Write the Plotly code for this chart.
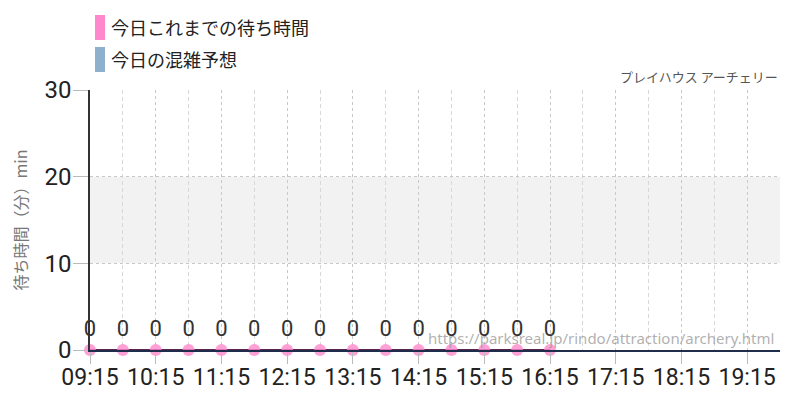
import plotly.graph_objects as go

# data
times = ["09:15", "09:45", "10:15", "10:45", "11:15", "11:45", "12:15", "12:45",
         "13:15", "13:45", "14:15", "14:45", "15:15", "15:45", "16:15"]
waits = [0, 0, 0, 0, 0, 0, 0, 0, 0, 0, 0, 0, 0, 0, 0]
day = "2024-01-01 "
x_start = "09:15"
x_end = "19:45"
y_ticks = [0, 10, 20, 30]
band = [10, 20]

title_text = "プレイハウス アーチェリー"
legend_names = ["今日これまでの待ち時間", "今日の混雑予想"]
legend_colors = ["#ff88cc", "#8eb0cc"]
url_text = "https://parksreal.jp/rindo/attraction/archery.html"

jp = "Noto Sans CJK JP"
num = "Roboto"

fig = go.Figure()

fig.add_trace(go.Scatter(
    x=[day + t for t in times],
    y=waits,
    mode="lines+markers+text",
    text=[str(v) for v in waits],
    textposition="top center",
    textfont=dict(family=num, size=22, color="#333"),
    line=dict(color="#5a2550", width=2),
    marker=dict(color="rgba(255,136,204,0.8)", size=12),
    cliponaxis=False,
    showlegend=False,
))

# grey band 10-20
fig.add_shape(type="rect", xref="paper", yref="y", x0=0, x1=1, y0=band[0], y1=band[1],
              fillcolor="#f2f2f2", line_width=0, layer="below")

# hand-made legend (tall swatches), positions in screen px -> paper
sw_y = [(15, 40), (47, 72)]
for (top, bot), c, name in zip(sw_y, legend_colors, legend_names):
    fig.add_shape(type="rect", xref="paper", yref="paper",
                  x0=(95 - 90) / 690, x1=(105 - 90) / 690,
                  y0=(350 - bot) / 260, y1=(350 - top) / 260,
                  fillcolor=c, line_width=0)
    fig.add_annotation(xref="paper", yref="paper", x=(109 - 90) / 690,
                       y=(350 - (top + bot) / 2) / 260, xanchor="left", yanchor="middle",
                       text=name, showarrow=False, font=dict(family=jp, size=18, color="#222"))

fig.add_annotation(xref="paper", yref="paper", x=1, y=(350 - 77) / 260,
                   xanchor="right", yanchor="middle", text=title_text, showarrow=False,
                   font=dict(family=jp, size=13, color="#555"))

fig.add_annotation(xref="paper", yref="paper", x=(776 - 90) / 690, y=(350 - 338) / 260,
                   xanchor="right", yanchor="middle", text=url_text, showarrow=False,
                   font=dict(family="Noto Sans", size=15, color="rgba(150,150,150,0.75)"))

# page body adds 8px on top/left, so the figure is 8px smaller
fig.update_layout(
    width=792, height=392,
    margin=dict(l=82, r=20, t=82, b=50),
    plot_bgcolor="white", paper_bgcolor="white",
    xaxis=dict(
        range=[day + x_start, day + x_end],
        tick0=day + "09:15", dtick=3600000, tickformat="%H:%M",
        tickfont=dict(family=num, size=23, color="#222"),
        ticks="outside", ticklen=12, tickcolor="#bbb", ticklabelstandoff=-6,
        showgrid=True, gridcolor="#c8c8c8", griddash="dot", gridwidth=1,
        minor=dict(dtick=1800000, tick0=day + "09:45", showgrid=True,
                   gridcolor="#d8d8d8", griddash="4px,3px", ticks=""),
        showline=True, linecolor="#1f2d4d", linewidth=1.5,
        zeroline=False, automargin=False,
    ),
    yaxis=dict(
        range=[0, 30], tickvals=y_ticks,
        tickfont=dict(family=num, size=24, color="#222"),
        ticks="outside", ticklen=15, tickcolor="#bbb", ticklabelstandoff=-3,
        showgrid=True, gridcolor="#c8c8c8", griddash="dot",
        showline=True, linecolor="#333", linewidth=1.5,
        zeroline=False, automargin=False,
        title=dict(text="待ち時間（分）min", font=dict(family=jp, size=16, color="#777"),
                   standoff=22),
    ),
)

fig.write_html("out.html")
